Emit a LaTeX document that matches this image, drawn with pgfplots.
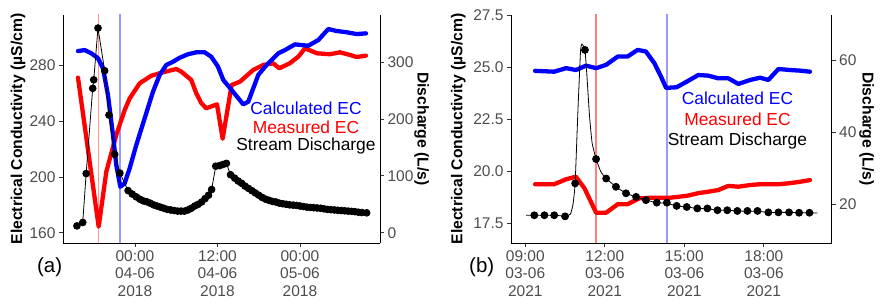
\documentclass[border=0pt]{standalone}
\usepackage{fontspec}
\setmainfont{Liberation Sans}
\usepackage{pgfplots}
\pgfplotsset{compat=1.18}
\definecolor{tickgray}{HTML}{4D4D4D}
\definecolor{tickline}{HTML}{333333}
\definecolor{vreda}{HTML}{FF9999}
\definecolor{vbluea}{HTML}{9999FF}
\pgfplotsset{
  base/.style={
    scale only axis, height=228pt,
    tick align=outside, major tick length=4pt,
    tick style={tickline, line width=0.8pt},
    axis line style={black, line width=0.9pt},
    tick label style={font=\fontsize{15.5}{17.4}\selectfont, text=tickgray},
    /pgf/number format/assume math mode=true,
    label style={font=\bfseries\fontsize{15.7}{17}\selectfont},
    clip=true,
  },
  ecline/.style={line width=4.3pt, line join=round, line cap=round},
}
\begin{document}
\begin{tikzpicture}
% ---------------- Panel (a) ----------------
\begin{axis}[base, at={(63pt,64pt)}, anchor=south west, width=317pt,
  xmin=-10.47, xmax=35.64, ymin=152.6, ymax=316.4,
  axis x line*=bottom, axis y line*=left,
  xtick={0,12,24},
  xticklabels={{00:00\\04-06\\2018},{12:00\\04-06\\2018},{00:00\\05-06\\2018}},
  xticklabel style={align=center},
  ytick={160,200,240,280},
  ylabel={Electrical Conductivity (µS/cm)},
  ylabel style={at={(axis description cs:-0.142,0.5)}, anchor=center},
]
\addplot[color=vreda, line width=1.8pt] coordinates {(-5.3,140) (-5.3,330)};
\addplot[color=vbluea, line width=1.4pt] coordinates {(-2.2,140) (-2.2,330)};
% Measured EC
\addplot[red, ecline] coordinates {
(-8.29,271.4) (-5.28,164.3) (-4.17,203.8) (-2.72,230.2) (-1.50,248.1) (-0.77,256.5)
(0.68,267.3) (2.38,272.8) (4.07,275.2) (6.0,277.6) (6.74,275.7) (8.19,269.7)
(8.92,260.1) (9.65,253.0) (10.37,249.4) (11.93,252.2) (12.75,227.5) (14.06,266.1)
(15.27,268.5) (17.2,276.9) (18.65,280.5) (20.1,281.7) (20.99,278.1) (22.5,281.7)
(23.75,286.4) (24.73,292.5) (26.43,288.9) (28.36,288.2) (29.8,289.6) (31.27,287.7)
(32.25,286.2) (33.6,287.2)};
% Calculated EC
\addplot[blue, ecline] coordinates {
(-8.29,290.5) (-7.32,291.2) (-6.36,288.9) (-5.38,285.3) (-4.65,278.1) (-3.93,258.9)
(-3.2,230.2) (-2.72,208.6) (-2.13,193.0) (-1.50,195.5) (-0.77,206.3) (0.19,223.0)
(1.41,242.2) (2.62,261.3) (3.59,273.3) (4.56,280.5) (5.53,282.8) (6.5,285.7)
(7.71,288.2) (8.92,289.6) (10.14,289.6) (11.1,286.4) (12.07,279.3) (12.85,269.7)
(14.06,262.5) (15.75,252.2) (16.48,254.1) (17.2,263.7) (17.93,273.3) (19.15,280.5)
(20.85,288.9) (21.82,291.2) (23.27,295.3) (25.2,294.3) (26.67,298.4) (28.12,306.3)
(29.33,304.9) (30.8,304.0) (32.25,302.7) (33.6,303.2)};
\end{axis}
\begin{axis}[base, at={(63pt,64pt)}, anchor=south west, width=317pt,
  xmin=-10.47, xmax=35.64, ymin=-18.1, ymax=383,
  axis y line*=right, axis x line=none,
  ytick={0,100,200,300},
  ylabel={Discharge (L/s)},
  ylabel style={at={(axis description cs:1.1315,0.5)}, anchor=center, rotate=180},
]
\addplot[black, line width=0.8pt, mark=*, mark size=3.4pt, mark options={fill=black, line width=0.8pt}] coordinates {
(-8.44,12) (-7.6,18) (-7.1,104) (-6.15,254) (-6.0,269) (-5.38,360) (-4.41,285)
(-3.78,207) (-2.95,138) (-2.2,105) (-1.0,74) (-0.4,68) (0.2,63) (0.7,59) (1.2,56)
(1.7,54.5) (2.2,52) (2.7,49) (3.2,47) (3.7,45) (4.2,43) (4.7,41) (5.2,40) (5.7,39)
(6.2,38) (6.7,38) (7.2,38) (7.7,40) (8.2,43) (8.7,47) (9.2,50) (9.7,54) (10.2,60)
(10.7,66) (11.15,76) (11.75,117) (12.3,118) (12.8,120) (13.3,122) (13.9,102)
(14.5,96) (15.0,91) (15.5,87) (16.0,82) (16.5,78) (17.0,74) (17.5,70) (18.0,66)
(18.5,62) (19.0,59) (19.5,57) (20.0,55) (20.5,54) (21.0,52) (21.5,51) (22.0,50)
(22.5,49) (23.0,48.5) (23.5,48) (24.0,47) (24.5,46) (25.0,45) (25.5,44.5) (26.0,44)
(26.5,43.5) (27.0,43) (27.5,42) (28.0,41) (28.5,40.5) (29.0,40) (29.5,39.5) (30.0,39)
(30.5,38.5) (31.0,38) (31.5,37.5) (32.0,37) (32.5,36) (33.0,35.5) (33.7,35)};
\end{axis}
% ---------------- Panel (b) ----------------
\begin{axis}[base, at={(511pt,64pt)}, anchor=south west, width=320.7pt,
  xmin=8.46, xmax=20.56, ymin=16.55, ymax=27.53,
  axis x line*=bottom, axis y line*=left,
  xtick={9,12,15,18},
  xticklabels={{09:00\\03-06\\2021},{12:00\\03-06\\2021},{15:00\\03-06\\2021},{18:00\\03-06\\2021}},
  xticklabel style={align=center},
  ytick={17.5,20,22.5,25,27.5},
  yticklabel style={/pgf/number format/fixed, /pgf/number format/fixed zerofill, /pgf/number format/precision=1},
  ylabel={Electrical Conductivity (µS/cm)},
  ylabel style={at={(axis description cs:-0.164,0.5)}, anchor=center},
]
\addplot[draw=red!50, line width=1.4pt] coordinates {(11.66,16) (11.66,28)};
\addplot[draw=blue!40, line width=1.8pt] coordinates {(14.36,16) (14.36,28)};
\addplot[red, ecline] coordinates {
(9.37,19.38) (10.09,19.38) (10.54,19.62) (10.91,19.74) (11.23,19.19) (11.67,18.01)
(12.05,18.01) (12.49,18.42) (12.86,18.42) (13.30,18.70) (13.74,18.73) (14.46,18.73)
(15.09,18.82) (15.53,18.95) (15.9,19.02) (16.28,19.10) (16.66,19.30) (17.04,19.26)
(17.48,19.34) (17.86,19.38) (18.55,19.38) (18.99,19.43) (19.37,19.50) (19.74,19.58)};
\addplot[blue, ecline] coordinates {
(9.37,24.84) (10.09,24.80) (10.54,24.97) (10.91,24.88) (11.29,25.09) (11.67,24.97)
(12.05,25.13) (12.49,25.53) (12.86,25.53) (13.24,25.85) (13.55,25.77) (13.87,25.21)
(14.12,24.56) (14.31,24.02) (14.71,24.05) (15.09,24.32) (15.53,24.64) (15.9,24.61)
(16.28,24.48) (16.66,24.48) (17.04,24.21) (17.48,24.40) (17.86,24.51) (18.17,24.40)
(18.55,24.93) (18.99,24.88) (19.37,24.85) (19.74,24.80)};
\end{axis}
\begin{axis}[base, at={(511pt,64pt)}, anchor=south west, width=320.7pt,
  xmin=8.46, xmax=20.56, ymin=9.2, ymax=72.5,
  axis y line*=right, axis x line=none,
  ytick={20,40,60},
  ylabel={Discharge (L/s)},
  ylabel style={at={(axis description cs:1.109,0.5)}, anchor=center, rotate=180},
]
\addplot[black, line width=0.8pt, smooth, tension=0.3] coordinates {
(9.03,16.9) (9.34,16.9) (9.72,16.9) (10.09,16.9) (10.5,16.7) (10.7,17.2) (10.8,20)
(10.88,25.8) (10.98,45) (11.08,62) (11.13,64.4) (11.25,62.8) (11.33,55) (11.42,44.7)
(11.52,37) (11.67,32.5) (11.85,29) (12.05,27.1) (12.42,24.8) (12.8,23.0) (13.18,22.0)
(13.55,21.1) (13.96,20.4) (14.34,20.2) (14.71,19.5) (15.09,19.2) (15.49,18.8)
(15.87,18.7) (16.25,18.3) (16.62,18.3) (17.0,18.1) (17.38,18.0) (17.76,18.0)
(18.17,17.7) (18.55,17.7) (18.95,17.7) (19.33,17.6) (19.72,17.6) (20.02,17.5)};
\addplot[only marks, mark=*, mark size=3.5pt, black, mark options={fill=black, line width=0.8pt}] coordinates {
(9.34,16.9) (9.72,16.9) (10.09,16.9) (10.5,16.6) (10.88,25.75) (11.25,62.8) (11.67,32.5)
(12.05,27.1) (12.42,24.8) (12.8,23.0) (13.18,22.0) (13.55,21.1) (13.96,20.4) (14.34,20.4)
(14.71,19.5) (15.09,19.2) (15.49,18.8) (15.87,18.8) (16.25,18.3) (16.62,18.3) (17.0,18.1)
(17.38,18.1) (17.76,18.1) (18.17,17.7) (18.55,17.7) (18.95,17.7) (19.33,17.6) (19.72,17.6)};
\end{axis}
% annotations
\begin{scope}[font=\fontsize{17.4}{18}\selectfont]
\node[anchor=base, blue] at (306pt,192pt) {Calculated EC};
\node[anchor=base, red] at (306pt,173.7pt) {Measured EC};
\node[anchor=base, black] at (306pt,156pt) {Stream Discharge};
\node[anchor=base, blue] at (737.5pt,202pt) {Calculated EC};
\node[anchor=base, red] at (737.5pt,181pt) {Measured EC};
\node[anchor=base, black] at (737.5pt,161.3pt) {Stream Discharge};
\end{scope}
\node[font=\fontsize{20.5}{22}\selectfont] at (49.7pt,40.3pt) {(a)};
\node[font=\fontsize{20.5}{22}\selectfont] at (481.7pt,40.3pt) {(b)};
\pgfresetboundingbox
\path[use as bounding box] (0pt,0pt) rectangle (884pt,307pt);
\end{tikzpicture}
\end{document}
